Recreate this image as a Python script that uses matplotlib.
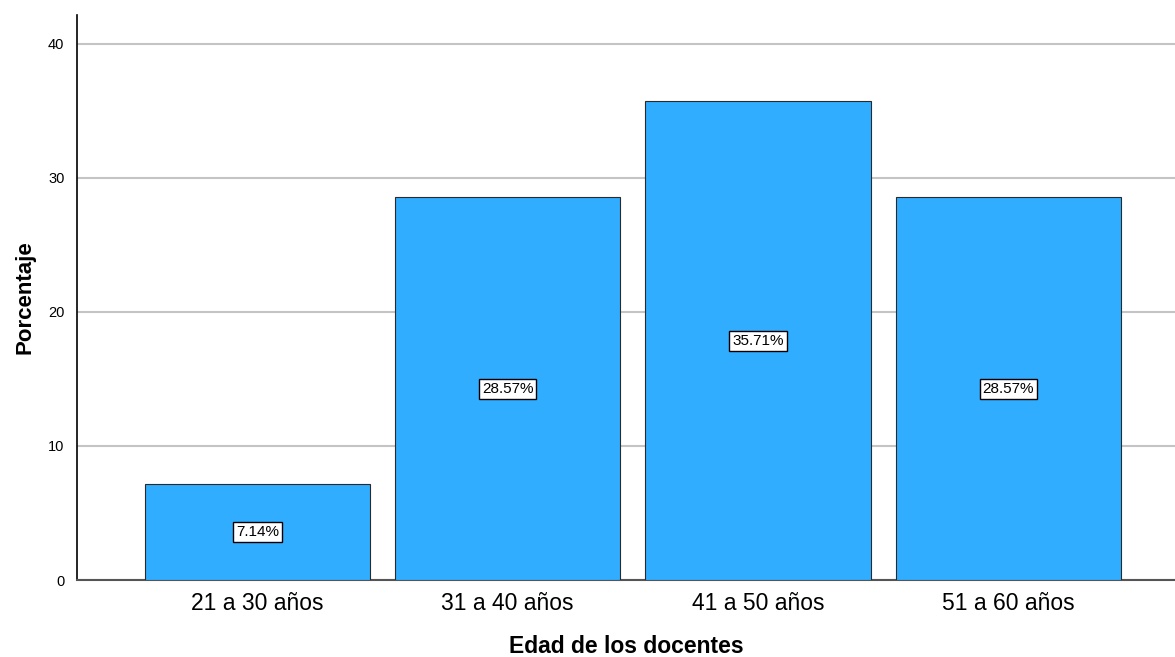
import matplotlib
matplotlib.use("Agg")
import matplotlib.pyplot as plt
import numpy as np

categories = ["21 a 30 años", "31 a 40 años", "41 a 50 años", "51 a 60 años"]
values = [7.14, 28.57, 35.71, 28.57]
labels = ["7.14%", "28.57%", "35.71%", "28.57%"]
yticks = [0, 10, 20, 30, 40]

plt.rcParams['font.family'] = ['Arial', 'Liberation Sans', 'DejaVu Sans']

fig = plt.figure(figsize=(11.75, 6.57), dpi=100)
ax = fig.add_axes([77/1175, 1 - 580/657, 1 - 77/1175, (580 - 15)/657])

x = np.arange(len(categories))
ax.bar(x, values, width=0.9, color="#31adff", edgecolor="#2a2a2a", linewidth=0.8, zorder=3)
for xi, v, lab in zip(x, values, labels):
    ax.text(xi, v / 2, lab, ha="center", va="center", fontsize=11, zorder=4,
            bbox=dict(boxstyle="square,pad=0.2", facecolor="white", edgecolor="black", linewidth=1))

ax.set_xlim(-0.72, 3.665)
ax.set_ylim(0, 42.16)
ax.set_yticks(yticks)
ax.set_yticklabels([str(t) for t in yticks], fontsize=10.5)
ax.set_xticks(x)
ax.set_xticklabels(categories, fontsize=16.5)
ax.tick_params(axis="y", length=0, pad=9)
ax.tick_params(axis="x", length=0, pad=9)
ax.yaxis.grid(True, color="#c4c4c4", linewidth=1.5, zorder=0)
ax.set_axisbelow(True)
for s in ["top", "right"]:
    ax.spines[s].set_visible(False)
ax.spines["left"].set_color("black")
ax.spines["left"].set_linewidth(1.2)
ax.spines["bottom"].set_color("#555555")
ax.spines["bottom"].set_linewidth(1.5)

ax.set_xlabel("Edad de los docentes", fontsize=16.5, fontweight="bold", labelpad=14)
ax.set_ylabel("Porcentaje", fontsize=16, fontweight="bold", labelpad=9)

fig.savefig("out.png", dpi=100)
